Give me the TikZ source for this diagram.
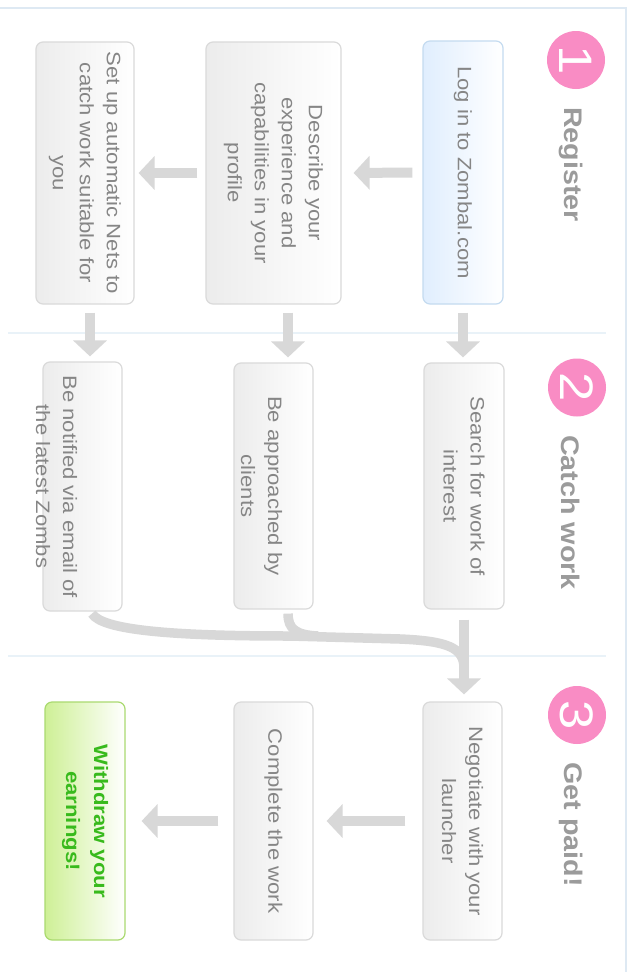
\documentclass[tikz,border=0pt]{standalone}
\usepackage{fontspec}
\setmainfont{Liberation Sans}
\usetikzlibrary{arrows.meta,calc}
\definecolor{pinkc}{RGB}{249,140,196}
\definecolor{txtgrey}{RGB}{134,134,134}
\definecolor{titlegrey}{RGB}{155,155,155}
\definecolor{arrowgrey}{RGB}{216,216,216}
\definecolor{boxborder}{RGB}{218,218,218}
\definecolor{boxfill}{RGB}{236,236,236}
\definecolor{blueborder}{RGB}{196,219,240}
\definecolor{bluefill}{RGB}{224,238,254}
\definecolor{greenborder}{RGB}{170,218,112}
\definecolor{greenfill}{RGB}{206,240,150}
\definecolor{greentext}{RGB}{56,186,28}
\definecolor{framec}{RGB}{222,233,243}
\definecolor{sepc}{RGB}{233,242,248}
\begin{document}
\begin{tikzpicture}[x=1pt,y=1pt,
  box/.style={rectangle, draw=boxborder, line width=1.2pt, rounded corners=7pt,
    left color=boxfill, right color=white, inner sep=0pt},
  bluebox/.style={box, draw=blueborder, left color=bluefill},
  greenbox/.style={box, draw=greenborder, left color=greenfill},
  boxtext/.style={rotate=-90, xscale=1.14, align=center, text=txtgrey,
    font=\fontsize{19.4}{27}\selectfont, inner sep=0pt},
  greentxt/.style={boxtext, text=greentext, font=\fontsize{19.4}{28}\selectfont\bfseries},
  title/.style={rotate=-90, xscale=1.13, text=titlegrey, inner sep=0pt,
    font=\fontsize{25.4}{28}\selectfont\bfseries},
  numcirc/.style={circle, fill=pinkc, minimum size=58pt, inner sep=0pt, text=white,
    rotate=-90, font=\fontsize{47}{50}\selectfont},
  flow/.style={draw=arrowgrey, line width=10pt, -{Triangle[width=33pt,length=16pt]}},
  shaft/.style={draw=arrowgrey, line width=9.5pt},
  sep/.style={draw=sepc, line width=2pt}
]
\useasboundingbox (0,0) rectangle (629,-972);
\fill[white] (0,0) rectangle (629,-972);
% frame
\draw[draw=framec, line width=1.5pt] (0,-8) -- (626,-8) -- (626,-972);
% separators
\draw[sep] (8,-333) -- (606,-333);
\draw[sep] (8,-656) -- (606,-656);

% section headers
\node[numcirc] (c1) at (576,-60) {\scalebox{1.12}[1]{1}};
\node[title] (t1) at (571,-164.5) {Register};
\node[numcirc] (c2) at (577,-387.5) {\scalebox{1.12}[1]{2}};
\node[title] (t2) at (571,-512.5) {Catch work};
\node[numcirc] (c3) at (577,-715) {\scalebox{1.12}[1]{3}};
\node[title] (t3) at (571,-824.5) {Get paid!};

% row 1 boxes
\node[bluebox, minimum width=80pt, minimum height=263pt] (login) at (463,-172.5) {};
\node[box, minimum width=135pt, minimum height=262pt] (describe) at (273.5,-173) {};
\node[box, minimum width=98pt, minimum height=262pt] (setup) at (85,-173) {};
% row 2 boxes
\node[box, minimum width=80pt, minimum height=246pt] (search) at (464,-486) {};
\node[box, minimum width=79pt, minimum height=246pt] (appr) at (273.5,-486) {};
\node[box, minimum width=79pt, minimum height=249pt] (notif) at (82.5,-486.5) {};
% row 3 boxes
\node[box, minimum width=79pt, minimum height=238pt] (nego) at (462.5,-821) {};
\node[box, minimum width=79pt, minimum height=238pt] (complete) at (273.5,-821) {};
\node[greenbox, minimum width=80pt, minimum height=238pt] (withdraw) at (85,-821) {};

% box texts
\node[boxtext] (logintxt) at (login.center) {Log in to Zombal.com};
\node[boxtext] (describetxt) at (describe.center) {Describe your\\experience and\\capabilities in your\\profile};
\node[boxtext] (setuptxt) at (setup.center) {Set up automatic Nets to\\catch work suitable for\\you};
\node[boxtext] (searchtxt) at (search.center) {Search for work of\\interest};
\node[boxtext] (apprtxt) at ([xshift=-12pt]appr.center) {Be approached by\\clients};
\node[boxtext] (notiftxt) at ([xshift=-26pt]notif.center) {Be notified via email of\\the latest Zombs};
\node[boxtext] (negotxt) at (nego.center) {Negotiate with your\\launcher};
\node[boxtext] (completetxt) at (complete.center) {Complete the work};
\node[greentxt] (withdrawtxt) at (withdraw.center) {Withdraw your\\earnings!};

% row 1 arrows
\draw[flow, shorten <=10pt, shorten >=12pt] (login.west) -- (describe.east);
\draw[flow, shorten <=8pt, shorten >=4pt] (describe.west) -- (setup.east);
% down arrows
\draw[flow, shorten <=8pt, shorten >=5pt] ([xshift=0pt]login.south) -- ([xshift=-1pt]search.north);
\draw[flow, shorten <=8pt, shorten >=5pt] ([xshift=14.5pt]describe.south) -- ([xshift=14.5pt]appr.north);
\draw[flow, shorten <=8pt, shorten >=5pt] ([xshift=5pt]setup.south) -- ([xshift=7.5pt]notif.north);
% merge
\coordinate (join) at (464,-668);
\draw[shaft] ([xshift=9.5pt,yshift=-2pt]notif.south) .. controls (102,-630) and (170,-636) .. (290,-636)
  -- (400,-639) .. controls (448,-641) and (464,-648) .. (join);
\draw[shaft] ([xshift=14.5pt,yshift=-4pt]appr.south) .. controls (288,-629) and (296,-635) .. (318,-636);
\draw[flow, shorten <=10pt, shorten >=7pt] (search.south) -- ([xshift=1.5pt]nego.north);
% row 3 arrows
\draw[flow, shorten <=17pt, shorten >=13pt] (nego.west) -- (complete.east);
\draw[flow, shorten <=15pt, shorten >=16pt] (complete.west) -- (withdraw.east);
\end{tikzpicture}
\end{document}
